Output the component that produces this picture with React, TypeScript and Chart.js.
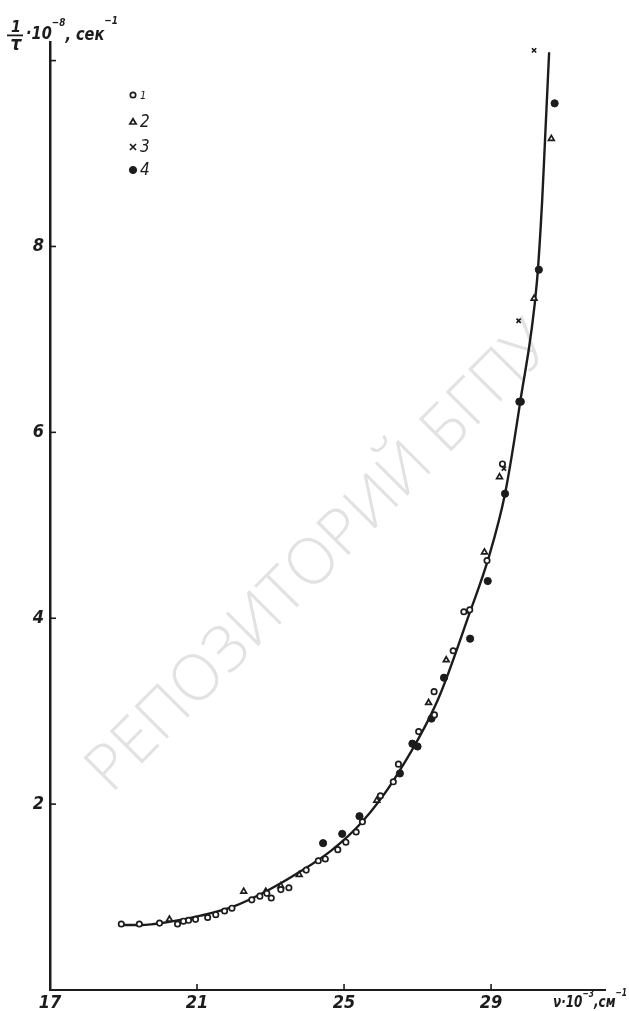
import React, { useEffect, useRef } from 'react';
import { Chart, registerables } from 'chart.js';

Chart.register(...registerables);

// ---- data ----
const xTickValues = [17, 21, 25, 29];
const yTickLabelValues = [2, 4, 6, 8];
const yTickMarkValues = [2, 4, 6, 8, 10];
const xTickMarkValues = [21, 25, 29];

const seriesLabels = ['1', '2', '3', '4'];

// series 1: open circles
const s1Nu = [18.94, 19.43, 19.98, 20.47, 20.63, 20.77, 20.96, 21.29, 21.51, 21.75, 21.95, 22.49, 22.71, 22.9, 23.02, 23.28, 23.5, 23.97, 24.3, 24.49, 24.83, 25.05, 25.33, 25.5, 25.99, 26.34, 26.48, 27.03, 27.46, 27.45, 27.97, 28.26, 28.42, 28.89, 29.31];
const s1Rate = [0.71, 0.71, 0.72, 0.71, 0.74, 0.75, 0.76, 0.78, 0.81, 0.85, 0.88, 0.97, 1.01, 1.04, 0.99, 1.08, 1.1, 1.29, 1.39, 1.41, 1.51, 1.59, 1.7, 1.81, 2.09, 2.24, 2.43, 2.78, 2.96, 3.21, 3.65, 4.07, 4.09, 4.62, 5.66];

// series 2: open triangles
const s2Nu = [20.25, 22.27, 22.87, 23.28, 23.78, 25.89, 27.3, 27.78, 28.82, 29.23, 30.17, 30.64];
const s2Rate = [0.76, 1.06, 1.06, 1.12, 1.24, 2.04, 3.09, 3.55, 4.71, 5.52, 7.44, 9.16];

// series 3: crosses
const s3Nu = [26.86, 28.34, 29.35, 29.75, 30.17];
const s3Rate = [2.66, 4.07, 5.61, 7.2, 10.11];

// series 4: filled circles
const s4Nu = [24.43, 24.95, 25.42, 26.52, 26.86, 27.0, 27.38, 27.72, 28.43, 28.91, 29.38, 29.77, 29.81, 30.3, 30.73];
const s4Rate = [1.58, 1.68, 1.87, 2.33, 2.65, 2.62, 2.92, 3.36, 3.78, 4.4, 5.34, 6.33, 6.33, 7.75, 9.54];

// drawn curve
const curveNu = [18.86, 19.46, 20.2, 21.1, 22.0, 22.87, 23.83, 24.65, 25.47, 26.37, 27.55, 28.42, 28.94, 29.38, 29.79, 30.25, 30.39, 30.47, 30.58];
const curveRate = [0.7, 0.7, 0.73, 0.8, 0.9, 1.06, 1.28, 1.5, 1.8, 2.27, 3.12, 4.06, 4.66, 5.34, 6.32, 7.63, 8.49, 9.16, 10.09];

const INK = '#1c1c1c';
const FONT = '"Liberation Sans Narrow", "DejaVu Sans Condensed", "Liberation Sans", sans-serif';

const zip = (xs: number[], ys: number[]) => xs.map((x, i) => ({ x, y: ys[i] }));

const markerStyles = [
  { pointStyle: 'circle', radius: 2.7, bg: '#ffffff', bw: 1.7 },
  { pointStyle: 'triangle', radius: 3.3, bg: '#ffffff', bw: 1.7 },
  { pointStyle: 'crossRot', radius: 3, bg: INK, bw: 1.7 },
  { pointStyle: 'circle', radius: 3.6, bg: INK, bw: 1 },
];

type Part = { t: string; size: number; dy: number };

function drawRich(ctx: CanvasRenderingContext2D, parts: Part[], x: number, y: number, targetWidth?: number) {
  let total = 0;
  for (const p of parts) {
    ctx.font = `italic bold ${p.size}px ${FONT}`;
    total += ctx.measureText(p.t).width;
  }
  const sx = targetWidth ? Math.min(1, targetWidth / total) : 1;
  ctx.save();
  ctx.translate(x, y);
  ctx.scale(sx, 1);
  let cx = 0;
  for (const p of parts) {
    ctx.font = `italic bold ${p.size}px ${FONT}`;
    ctx.textAlign = 'left';
    ctx.textBaseline = 'alphabetic';
    ctx.fillText(p.t, cx, p.dy);
    cx += ctx.measureText(p.t).width;
  }
  ctx.restore();
}

function drawMarker(ctx: CanvasRenderingContext2D, style: string, r: number, x: number, y: number, bg: string) {
  ctx.beginPath();
  if (style === 'circle') {
    ctx.arc(x, y, r, 0, Math.PI * 2);
    ctx.fillStyle = bg;
    ctx.fill();
    ctx.stroke();
  } else if (style === 'triangle') {
    ctx.moveTo(x, y - r);
    ctx.lineTo(x + r * 0.95, y + r * 0.6);
    ctx.lineTo(x - r * 0.95, y + r * 0.6);
    ctx.closePath();
    ctx.fillStyle = bg;
    ctx.fill();
    ctx.stroke();
  } else {
    ctx.moveTo(x - r, y - r);
    ctx.lineTo(x + r, y + r);
    ctx.moveTo(x + r, y - r);
    ctx.lineTo(x - r, y + r);
    ctx.stroke();
  }
}

const decorPlugin = {
  id: 'decor',
  beforeDatasetsDraw(chart: any) {
    const ctx = chart.ctx as CanvasRenderingContext2D;
    ctx.save();
    ctx.translate(320, 558);
    ctx.rotate(-0.79);
    const text = 'РЕПОЗИТОРИЙ БГПУ';
    const fam = '"Open Sans", "DejaVu Sans", sans-serif';
    ctx.font = `300 60px ${fam}`;
    const w = ctx.measureText(text).width;
    const size = (60 * 630) / w;
    ctx.font = `300 ${size}px ${fam}`;
    ctx.fillStyle = '#e2e2e2';
    ctx.textAlign = 'center';
    ctx.textBaseline = 'middle';
    ctx.fillText(text, 0, 0);
    ctx.restore();
  },
  afterDraw(chart: any) {
    const ctx = chart.ctx as CanvasRenderingContext2D;
    const xs = chart.scales.x;
    const ys = chart.scales.y;
    const area = chart.chartArea;
    ctx.save();
    ctx.strokeStyle = INK;
    ctx.fillStyle = INK;
    ctx.lineWidth = 1.6;
    // inner tick marks
    for (const v of xTickMarkValues) {
      const px = xs.getPixelForValue(v);
      ctx.beginPath();
      ctx.moveTo(px, area.bottom);
      ctx.lineTo(px, area.bottom - 6);
      ctx.stroke();
    }
    for (const v of yTickMarkValues) {
      const py = ys.getPixelForValue(v);
      ctx.beginPath();
      ctx.moveTo(area.left, py);
      ctx.lineTo(area.left + 6, py);
      ctx.stroke();
    }
    // y-axis title: 1/τ · 10^-8, сек^-1
    ctx.textAlign = 'center';
    ctx.textBaseline = 'alphabetic';
    ctx.font = `italic bold 16px ${FONT}`;
    ctx.fillText('1', 16, 32);
    ctx.fillRect(7, 34.5, 16, 1.8);
    ctx.font = `italic bold 19px ${FONT}`;
    ctx.fillText('τ', 16, 50);
    drawRich(ctx, [
      { t: '·10', size: 18, dy: 0 },
      { t: '−8', size: 11, dy: -13 },
      { t: ', сек', size: 18, dy: 1 },
      { t: '−1', size: 11, dy: -15 },
    ], 26, 39, 92);
    // x-axis title: ν·10^-3, см^-1
    drawRich(ctx, [
      { t: 'ν·10', size: 16, dy: 0 },
      { t: '−3', size: 10, dy: -10 },
      { t: ',см', size: 16, dy: 0 },
      { t: '−1', size: 10, dy: -11 },
    ], 553, 1007, 74);
    // legend
    const lx = 133;
    const lys = [95, 122, 147, 170];
    lys.forEach((ly, i) => {
      const st = markerStyles[i];
      ctx.lineWidth = st.bw;
      ctx.strokeStyle = INK;
      drawMarker(ctx, st.pointStyle, st.radius, lx, ly, st.bg);
      ctx.fillStyle = INK;
      ctx.textAlign = 'left';
      ctx.textBaseline = 'middle';
      ctx.font = i === 0 ? `italic 11px ${FONT}` : `italic 17px ${FONT}`;
      ctx.fillText(seriesLabels[i], lx + 7, ly + 1);
    });
    ctx.restore();
  },
};

export default function App() {
  const ref = useRef<HTMLCanvasElement>(null);
  useEffect(() => {
    const canvas = ref.current;
    if (!canvas) return;
    const seriesData = [zip(s1Nu, s1Rate), zip(s2Nu, s2Rate), zip(s3Nu, s3Rate), zip(s4Nu, s4Rate)];
    const chart = new Chart(canvas, {
      type: 'scatter',
      data: {
        datasets: [
          {
            label: 'curve',
            data: zip(curveNu, curveRate),
            showLine: true,
            borderColor: INK,
            borderWidth: 2.4,
            pointRadius: 0,
            cubicInterpolationMode: 'monotone',
            order: 10,
            clip: false,
          } as any,
          ...seriesData.map((d, i) => ({
            label: seriesLabels[i],
            data: d,
            showLine: false,
            pointStyle: markerStyles[i].pointStyle,
            pointRadius: markerStyles[i].radius,
            pointBackgroundColor: markerStyles[i].bg,
            pointBorderColor: INK,
            pointBorderWidth: markerStyles[i].bw,
            order: 1,
            clip: false,
          } as any)),
        ],
      },
      options: {
        responsive: false,
        devicePixelRatio: 1,
        animation: false,
        events: [],
        layout: { padding: { top: 42, right: 24, left: 0, bottom: 0 } },
        plugins: { legend: { display: false }, tooltip: { enabled: false }, title: { display: false } },
        scales: {
          x: {
            type: 'linear',
            min: 17,
            max: 32.1,
            grid: { display: false, drawTicks: false },
            border: { display: true, color: INK, width: 2 },
            ticks: { color: INK, padding: 3, font: { family: FONT, size: 18, style: 'italic', weight: 'bold' } },
            afterBuildTicks: (s: any) => { s.ticks = xTickValues.map((v) => ({ value: v })); },
            afterFit: (s: any) => { s.height = 21; },
          },
          y: {
            type: 'linear',
            min: 0,
            max: 10.2,
            grid: { display: false, drawTicks: false },
            border: { display: true, color: INK, width: 2.5 },
            ticks: { color: INK, padding: 6, font: { family: FONT, size: 18, style: 'italic', weight: 'bold' } },
            afterBuildTicks: (s: any) => { s.ticks = yTickLabelValues.map((v) => ({ value: v })); },
            afterFit: (s: any) => { s.width = 50; },
          },
        },
      } as any,
      plugins: [decorPlugin],
    });
    return () => chart.destroy();
  }, []);
  return (
    <div style={{ position: 'absolute', left: 0, top: 0, width: 629, height: 1011, background: '#ffffff' }}>
      <canvas ref={ref} width={629} height={1011} style={{ display: 'block', width: 629, height: 1011 }} />
    </div>
  );
}
